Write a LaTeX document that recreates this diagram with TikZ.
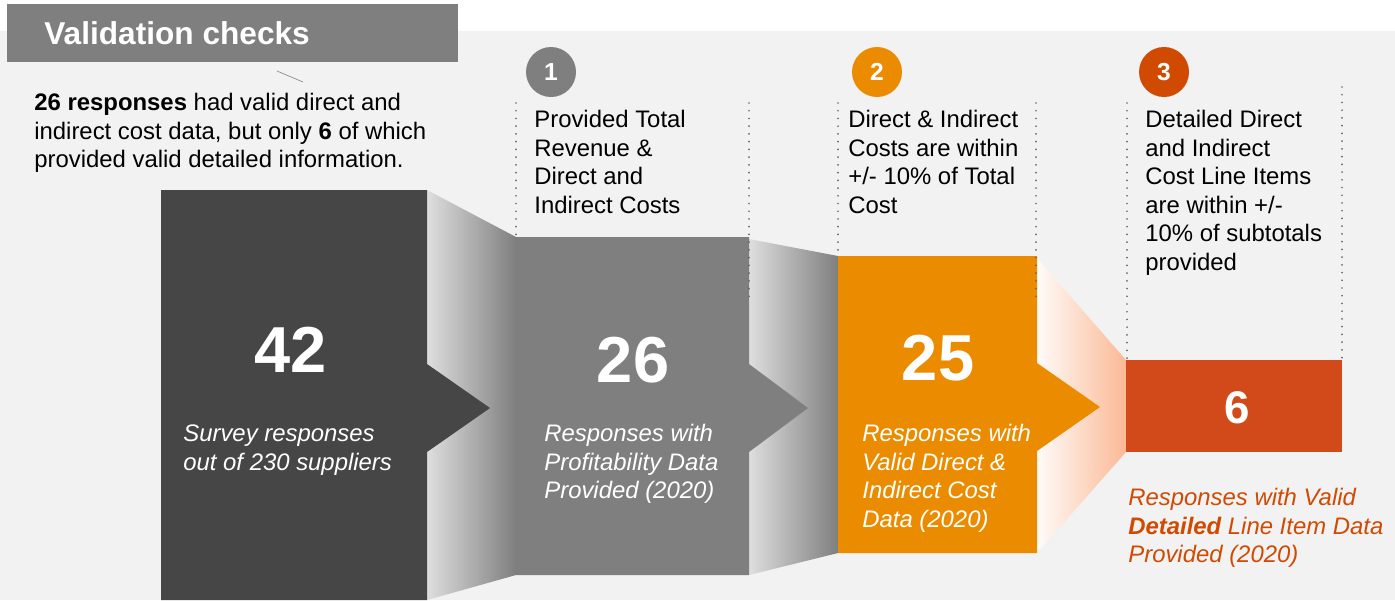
\documentclass[tikz,border=0pt]{standalone}
\usepackage{fontspec}
\setmainfont{Liberation Sans}
\usetikzlibrary{calc}

\definecolor{pwcdark}{HTML}{464646}
\definecolor{pwcgrey}{HTML}{7F7F7F}
\definecolor{pwcorange}{HTML}{EB8C00}
\definecolor{pwcred}{HTML}{D04A02}
\definecolor{pwcbrick}{HTML}{D24A1A}
\definecolor{panel}{HTML}{F2F2F2}
\definecolor{peach}{HTML}{FBB995}

\def\bodyfont{\fontsize{13.6}{16.3}\selectfont}
% box with an arrow notch on its right side: (left,top,right,bottom)(tip x,tip y)
\def\arrowbox[#1](#2,#3,#4,#5)(#6,#7){\fill[#1] (#2,#3) -- (#4,#3) -- (#4,#7-44) -- (#6,#7) -- (#4,#7+44) -- (#4,#5) -- (#2,#5) -- cycle;}
% shaded funnel between two boxes: (x,top,bottom)(x,top,bottom)
\def\funnel[#1](#2,#3,#4)(#5,#6,#7){\shade[#1] (#2,#3) -- (#5,#6) -- (#5,#7) -- (#2,#4) -- cycle;}
\def\dotcol(#1,#2,#3){\draw[color=black!60, line width=1.1pt, line cap=round, dash pattern=on 0pt off 4.4pt] (#1,#2) -- (#1,#3);}

\tikzset{
  numdot/.style={circle, minimum size=1cm, inner sep=0pt, text=white, font=\fontsize{14}{16}\selectfont\bfseries},
  bignum/.style={anchor=base, inner sep=0pt, text=white, font=\fontsize{37}{40}\selectfont\bfseries},
  textblock/.style={anchor=north west, inner sep=0pt, align=left, font=\bodyfont},
}

\begin{document}
\begin{tikzpicture}[x=0.02cm, y=-0.02cm]
			%%%%% START %%%%%
			\useasboundingbox (0,0) rectangle (1395,600);
			\fill[white] (0,0) rectangle (1395,600);
			\fill[panel] (0,31) rectangle (1395,600);
			
			\fill[pwcgrey] (7,4) rectangle (458,62);
			\node[anchor=base west, inner sep=0pt, text=white, font=\fontsize{18}{20}\selectfont\bfseries] (title) at (44,44) {Validation checks};
			\draw[line width=0.4pt, color=black!45] (277,71) -- (303,82);
			
			\node[textblock] (summary) at (34,90) {\strut\textbf{26 responses} had valid direct and\\indirect cost data, but only \textbf{6} of which\\provided valid detailed information.};
			
			%% funnels
			\funnel[left color=black!13, right color=pwcgrey](427,190,600)(516,237,575)
			\funnel[left color=black!13, right color=pwcgrey](749,239,575)(838,256,553)
			\funnel[left color=peach!6, right color=peach](1037,258,553)(1126,360,452)
			
			%% boxes
			\arrowbox[pwcdark](161,190,427,600)(490,408)
			\arrowbox[pwcgrey](516,237,749,575)(808,408)
			\arrowbox[pwcorange](838,256,1037,553)(1100,407)
			\fill[pwcbrick] (1126,360) rectangle (1342,452);
			
			%% check columns
			\dotcol(516,103,237)
			\dotcol(749,103,297)
			\dotcol(838,103,256)
			\dotcol(1036,103,297)
			\dotcol(1127,103,360)
			\dotcol(1342,87,360)
			
			\node[numdot, fill=pwcgrey] (step1) at (551,72) {1};
			\node[numdot, fill=pwcorange] (step2) at (877,72) {2};
			\node[numdot, fill=pwcred] (step3) at (1164,72) {3};
			
			\node[textblock] (check1) at (534,107) {\strut Provided Total\\Revenue \&\\Direct and\\Indirect Costs};
			\node[textblock] (check2) at (848,107) {\strut Direct \& Indirect\\Costs are within\\+/- 10\% of Total\\Cost};
			\node[textblock] (check3) at (1145,107) {\strut Detailed Direct\\and Indirect\\Cost Line Items\\are within +/-\\10\% of subtotals\\provided};
			
			%% counts
			\node[bignum] (n42) at (291,372) {42};
			\node[bignum] (n26) at (633,382) {26};
			\node[bignum] (n25) at (938,380) {25};
			\node[bignum, font=\fontsize{26}{30}\selectfont\bfseries] (n6) at (1237,423) {6};
			
			\node[textblock, text=white, font=\bodyfont\itshape] (lbl42) at (183,421) {\strut Survey responses\\out of 230 suppliers};
			\node[textblock, text=white, font=\bodyfont\itshape] (lbl26) at (544,421) {\strut Responses with\\Profitability Data\\Provided (2020)};
			\node[textblock, text=white, font=\bodyfont\itshape] (lbl25) at (862,421) {\strut Responses with\\Valid Direct \&\\Indirect Cost\\Data (2020)};
			\node[textblock, text=pwcred, font=\bodyfont\itshape] (lbl6) at (1128,485) {\strut Responses with Valid\\\textbf{Detailed} Line Item Data\\Provided (2020)};
			%%%%% END %%%%%
\end{tikzpicture}
\end{document}
